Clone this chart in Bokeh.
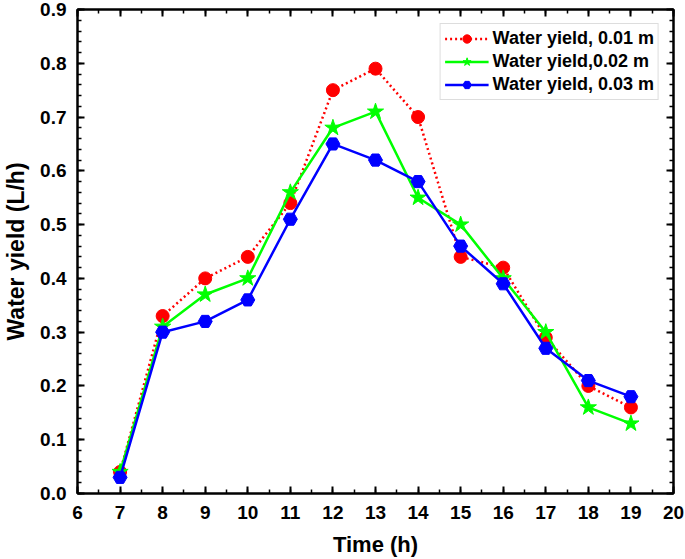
from bokeh.plotting import figure
from bokeh.models import (LinearAxis, SingleIntervalTicker, NumeralTickFormatter, Legend,
                          LegendItem, CustomJSTickFormatter)
from bokeh.embed import file_html
from bokeh.resources import INLINE

hours = [7, 8, 9, 10, 11, 12, 13, 14, 15, 16, 17, 18, 19]
yield_001 = [0.04, 0.33, 0.40, 0.44, 0.54, 0.75, 0.79, 0.70, 0.44, 0.42, 0.29, 0.20, 0.16]
yield_002 = [0.04, 0.31, 0.37, 0.40, 0.56, 0.68, 0.71, 0.55, 0.50, 0.40, 0.30, 0.16, 0.13]
yield_003 = [0.03, 0.30, 0.32, 0.36, 0.51, 0.65, 0.62, 0.58, 0.46, 0.39, 0.27, 0.21, 0.18]

FONT = "Liberation Sans"

p = figure(width=685, height=559, x_range=(6, 20), y_range=(0, 0.9),
           output_backend="svg", toolbar_location=None,
           min_border_left=73, min_border_right=12, min_border_top=9, min_border_bottom=66,
           x_axis_label="Time (h)", y_axis_label="Water yield (L/h)")
p.xgrid.visible = False
p.ygrid.visible = False
p.outline_line_color = "black"
p.outline_line_width = 2

def style(ax, labels=True):
    ax.axis_line_color = "black"
    ax.axis_line_width = 2
    ax.major_tick_line_width = 2
    ax.minor_tick_line_width = 1.5
    ax.major_tick_in = 7
    ax.major_tick_out = 0
    ax.minor_tick_in = 4
    ax.minor_tick_out = 0
    ax.major_label_text_font = FONT
    ax.major_label_text_font_style = "bold"
    ax.major_label_text_font_size = "19px"
    ax.major_label_text_color = "black"
    ax.axis_label_text_font = FONT
    ax.axis_label_text_font_style = "bold"
    ax.axis_label_text_font_size = "22px"
    ax.axis_label_text_color = "black"
    if not labels:
        ax.formatter = CustomJSTickFormatter(code="return ''")
        ax.major_label_standoff = 0

p.xaxis.ticker = SingleIntervalTicker(interval=1, num_minor_ticks=2)
p.yaxis.ticker = SingleIntervalTicker(interval=0.1, num_minor_ticks=5)
p.yaxis.formatter = NumeralTickFormatter(format="0.0")
style(p.xaxis[0])
style(p.yaxis[0])
p.yaxis.axis_label_text_font_size = "23px"
p.xaxis.major_label_standoff = 12
p.yaxis.major_label_standoff = 11
p.xaxis.axis_label_standoff = 10
p.yaxis.axis_label_standoff = 8

top = LinearAxis(ticker=SingleIntervalTicker(interval=1, num_minor_ticks=2))
style(top, labels=False)
p.add_layout(top, "above")
right = LinearAxis(ticker=SingleIntervalTicker(interval=0.1, num_minor_ticks=5))
style(right, labels=False)
p.add_layout(right, "right")

l1 = p.line(hours, yield_001, line_color="#FF0000", line_width=2.5, line_dash="2 3")
m1 = p.scatter(hours, yield_001, marker="circle", size=13, fill_color="#FF0000", line_color="#FF0000")
l2 = p.line(hours, yield_002, line_color="#00FF00", line_width=2.5)
m2 = p.scatter(hours, yield_002, marker="star", size=17, fill_color="#00FF00", line_color="#00FF00")
l3 = p.line(hours, yield_003, line_color="#0000FF", line_width=2.5)
m3 = p.scatter(hours, yield_003, marker="hex", size=14, fill_color="#0000FF", line_color="#0000FF")

legend = Legend(items=[
    LegendItem(label="Water yield, 0.01 m", renderers=[l1, m1]),
    LegendItem(label="Water yield,0.02 m", renderers=[l2, m2]),
    LegendItem(label="Water yield, 0.03 m", renderers=[l3, m3]),
], location="top_right")
legend.label_text_font = FONT
legend.label_text_font_style = "bold"
legend.label_text_font_size = "18px"
legend.label_text_color = "black"
legend.glyph_width = 44
legend.glyph_height = 21
legend.label_height = 21
legend.spacing = 2
legend.padding = 4
legend.margin = 14
legend.border_line_color = "#bbbbbb"
legend.border_line_width = 1
legend.label_standoff = 4
p.add_layout(legend)

open("out.html", "w").write(file_html(p, INLINE))
